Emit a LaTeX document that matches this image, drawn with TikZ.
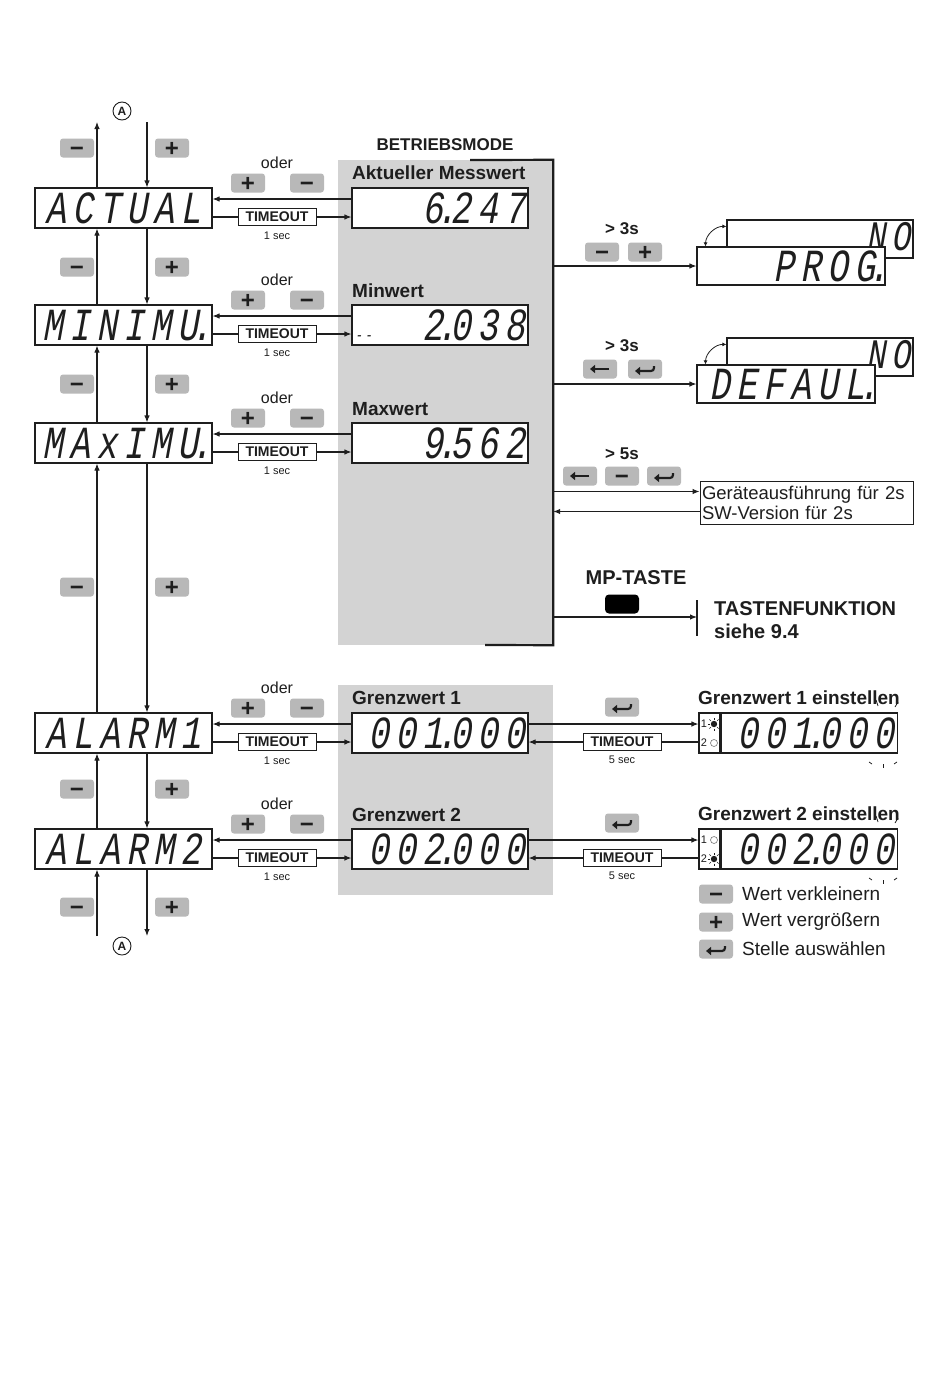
\documentclass[tikz,border=0pt]{standalone}
\usepackage{fontspec}
\setmainfont{Liberation Sans}
\newfontfamily\lcdfont[FakeSlant=0.18,FakeStretch=0.75,LetterSpace=14]{Liberation Mono}
\usetikzlibrary{arrows.meta,calc}
\definecolor{ink}{HTML}{1E1E1E}
\definecolor{keygray}{HTML}{B8B8B8}
\definecolor{panelgray}{HTML}{D3D3D3}
\newcommand\lcddot{\kern.07em\makebox[0pt][c]{.}\kern.07em}
\tikzset{
  ln/.style={draw=ink, line width=1.1pt},
  arr/.style={ln, -{Latex[length=7pt,width=5.5pt]}},
  lcdbox/.style={draw=ink, line width=1.1pt, fill=white, minimum height=40pt, inner xsep=1pt, inner ysep=0pt, text height=30pt, text depth=0pt, font=\lcdfont\fontsize{46}{46}\selectfont, text=ink},
  lcdl/.style={lcdbox, text width=175pt, align=center},
  lcdr/.style={lcdbox, inner xsep=3pt, text width=#1, align=right},
  lcdback/.style={lcdr=#1, minimum height=38pt, font=\lcdfont\fontsize{42}{42}\selectfont, text height=27pt, text depth=5pt},
  key/.style={fill=keygray, rounded corners=3pt, minimum width=34pt, minimum height=19pt, inner sep=0pt, text=ink, font=\bfseries\fontsize{24}{24}\selectfont, text height=16.3pt, text depth=0pt},
  keyleft/.style={key, path picture={
     \draw[ink, line width=2.4pt, -{Triangle[length=5pt,width=8pt]}] ([xshift=9pt]path picture bounding box.center) -- ([xshift=-10pt]path picture bounding box.center);}},
  keyenter/.style={key, path picture={
     \draw[ink, line width=2.2pt, -{Triangle[length=5pt,width=8pt]}] ([xshift=9pt,yshift=3pt]path picture bounding box.center) -- ([xshift=9pt,yshift=-2pt]path picture bounding box.center) -- ([xshift=-10pt,yshift=-2pt]path picture bounding box.center);}},
  tbox/.style={draw=ink, line width=0.9pt, fill=white, font=\bfseries\fontsize{14}{14}\selectfont, text=ink, minimum width=78pt, minimum height=17pt, inner sep=1pt},
  lbl/.style={font=\fontsize{19}{20}\selectfont, text=ink, inner sep=0pt},
  blbl/.style={font=\bfseries\fontsize{19}{20}\selectfont, text=ink, inner sep=0pt},
  oder/.style={font=\fontsize{16}{16}\selectfont, text=ink, inner sep=0pt},
  small/.style={font=\fontsize{11}{11}\selectfont, text=ink, inner sep=0pt},
  bold/.style={font=\bfseries\fontsize{17}{17}\selectfont, text=ink, inner sep=0pt},
  circA/.style={circle, draw=ink, line width=0.9pt, inner sep=0pt, minimum size=18pt, font=\bfseries\fontsize{12}{12}\selectfont, text=ink},
  ledbox/.style={draw=ink, line width=1.1pt, fill=white, minimum width=21pt, minimum height=40pt, inner sep=0pt}
}
\begin{document}
\begin{tikzpicture}[x=1pt,y=-1pt]
\useasboundingbox (0,0) rectangle (950,1373);
\fill[white] (0,0) rectangle (950,1373);
% panels
\node[fill=panelgray, minimum width=215pt, minimum height=485pt, inner sep=0pt] (panel) at (445.5,402.5) {};
\node[fill=panelgray, minimum width=215pt, minimum height=210pt, inner sep=0pt] (panel2) at (445.5,790) {};
\draw[ink, line width=2.2pt] (470,160) -- (panel.north east) -- (panel.south east) -- (485,645);
\node[bold] (bm) at (445,145) {BETRIEBSMODE};

% left displays
\node[lcdl] (dAct) at (123.5,208) {ACTUAL};
\node[lcdl] (dMin) at (123.5,325) {MINIMU\lcddot};
\node[lcdl] (dMax) at (123.5,443) {MAxIMU\lcddot};
\node[lcdl] (dAl1) at (123.5,733) {ALARM1};
\node[lcdl] (dAl2) at (123.5,849) {ALARM2};

% value displays
\node[lcdr=170pt] (vAct) at (440,208) {6\lcddot247};
\node[lcdr=170pt] (vMin) at (440,325) {{\fontsize{16}{16}\selectfont -\,-}\hfill 2\lcddot038};
\node[lcdr=170pt] (vMax) at (440,443) {9\lcddot562};
\node[lcdr=170pt] (vG1) at (440,733) {001\lcddot000};
\node[lcdr=170pt] (vG2) at (440,849) {002\lcddot000};
\node[blbl, anchor=west] (lAct) at (352,173) {Aktueller Messwert};
\node[blbl, anchor=west] (lMin) at (352,291) {Minwert};
\node[blbl, anchor=west] (lMax) at (352,409) {Maxwert};
\node[blbl, anchor=west] (lG1) at (352,698) {Grenzwert 1};
\node[blbl, anchor=west] (lG2) at (352,815) {Grenzwert 2};

% row connectors
\foreach \d/\v/\c/\i in {dAct/vAct/208/1, dMin/vMin/325/2, dMax/vMax/443/3, dAl1/vG1/733/4, dAl2/vG2/849/5}{
  \node[oder] (od\i) at (277,\c-45) {oder};
  \node[key] (kp\i) at (248,\c-25) {+};
  \node[key] (km\i) at (307,\c-25) {−};
  \node[tbox] (to\i) at (277,\c+9) {TIMEOUT};
  \node[small] (se\i) at (277,\c+28) {1 sec};
  \draw[arr] ([yshift=9pt]\v.west) -- ([yshift=9pt]\d.east);
  \draw[ln] ([yshift=-9pt]\d.east) -- (to\i.west);
  \draw[arr] (to\i.east) -- ([yshift=-9pt]\v.west);
}

% left verticals
\coordinate (cu) at (97,0);
\coordinate (cd) at (147,0);
\coordinate (topU) at (97,122);
\coordinate (topD) at (147,122);
\coordinate (botU) at (97,936);
\coordinate (botD) at (147,936);
\node[circA] (A1) at (122,111) {A};
\node[circA] (A2) at (122,946) {A};
\draw[arr] (dAct.north -| cu) -- (topU);
\draw[arr] (topD) -- (dAct.north -| cd);
\foreach \up/\dn in {dAct/dMin, dMin/dMax, dMax/dAl1, dAl1/dAl2}{
  \draw[arr] (\dn.north -| cu) -- (\up.south -| cu);
  \draw[arr] (\up.south -| cd) -- (\dn.north -| cd);
}
\draw[arr] (botU) -- (dAl2.south -| cu);
\draw[arr] (dAl2.south -| cd) -- (botD);
\foreach \y/\i in {148/1, 267/2, 384/3, 587/4, 789/5, 907/6}{
  \node[key] (sm\i) at (77,\y) {−};
  \node[key] (sp\i) at (172,\y) {+};
}

% PROG
\node[lcdback=180pt] (pBack) at (820,239) {NO};
\node[lcdr=182pt, minimum height=38pt] (pFront) at (791,266) {PROG\lcddot};
\draw[arr] (pFront.west -| panel.east) -- (pFront.west);
\draw[ink, line width=0.8pt, {Latex[length=4pt,width=4pt]}-{Latex[length=4pt,width=4pt]}] ([xshift=9pt]pFront.north west) to[bend left=45] ([yshift=-7pt]pBack.north west);
\node[bold] (g3a) at (622,229) {> 3s};
\node[key] (pk1) at (602,252) {−};
\node[key] (pk2) at (645,252) {+};

% DEFAUL
\node[lcdback=180pt] (dBack) at (820,357) {NO};
\node[lcdr=172pt, minimum height=38pt] (dFront) at (786,384) {DEFAUL\lcddot};
\draw[arr] (dFront.west -| panel.east) -- (dFront.west);
\draw[ink, line width=0.8pt, {Latex[length=4pt,width=4pt]}-{Latex[length=4pt,width=4pt]}] ([xshift=9pt]dFront.north west) to[bend left=45] ([yshift=-7pt]dBack.north west);
\node[bold] (g3b) at (622,346) {> 3s};
\node[keyleft] (dk1) at (600,369) {};
\node[keyenter] (dk2) at (645,369) {};

% info
\node[bold] (g5) at (622,454) {> 5s};
\node[keyleft] (ik1) at (580,476) {};
\node[key] (ik2) at (622,476) {−};
\node[keyenter] (ik3) at (664,476) {};
\node[draw=ink, line width=0.9pt, fill=white, minimum width=213pt, minimum height=43pt, text width=209pt, align=left, inner xsep=2pt, font=\fontsize{18.5}{20}\selectfont, text=ink] (gInfo) at (806.5,502.5) {Geräteausführung für 2s\\SW-Version für 2s};
\draw[arr] ([yshift=11pt]gInfo.west -| panel.east) -- ([yshift=11pt]gInfo.west);
\draw[arr] ([yshift=-9pt]gInfo.west) -- ([yshift=-9pt]gInfo.west -| panel.east);

% MP-Taste
\node[font=\bfseries\fontsize{20}{20}\selectfont, text=ink] (mp) at (636,578) {MP-TASTE};
\node[fill=black, rounded corners=4pt, minimum width=34pt, minimum height=19pt] (mpk) at (622,604) {};
\coordinate (tf) at (697,617);
\draw[arr] (tf -| panel.east) -- (tf);
\draw[ln] ([yshift=17pt]tf) -- ([yshift=-19pt]tf);
\node[anchor=west, align=left, font=\bfseries\fontsize{20}{23}\selectfont, text=ink, inner sep=0pt] (tfk) at (714,620) {TASTENFUNKTION\\siehe 9.4};

% setting displays
\foreach \v/\c/\i/\val in {vG1/733/1/001\lcddot000, vG2/849/2/002\lcddot000}{
  \node[ledbox] (led\i) at (709.5,\c) {};
  \node[lcdr=170pt, anchor=west] (st\i) at (led\i.east) {\val};
  \node[small] (n1\i) at (704,\c-9) {1};
  \node[small] (n2\i) at (704,\c+10) {2};
  \draw[arr] ([yshift=9pt]\v.east) -- ([yshift=9pt]led\i.west);
  \node[tbox] (tg\i) at (622,\c+9) {TIMEOUT};
  \draw[ln] ([yshift=-9pt]led\i.west) -- (tg\i.east);
  \draw[arr] (tg\i.west) -- ([yshift=-9pt]\v.east);
  \node[keyenter] (eg\i) at (622,\c-26) {};
  \node[small] (s5\i) at (622,\c+27) {5 sec};
  \node[blbl] (lst\i) at (799,\c-35) {Grenzwert \i\ einstellen};
  % blink marks
  \draw[ink, line width=0.8pt] (869,\c+29) -- (872,\c+31);
  \draw[ink, line width=0.8pt] (883,\c+31) -- (883,\c+35);
  \draw[ink, line width=0.8pt] (897,\c+29) -- (894,\c+31);
  \draw[ink, line width=0.8pt] (876,\c-33) -- (878,\c-27);
  \draw[ink, line width=0.8pt] (898,\c-31) -- (895,\c-26);
}
% LEDs
\fill[ink] (714,724) circle (3.2pt);
\foreach \a in {0,45,...,315} \draw[ink, line width=0.6pt] ($(714,724)+(\a:4.5pt)$) -- ($(714,724)+(\a:6.5pt)$);
\draw[ink!60, line width=0.6pt] (714,743) circle (3.5pt);
\draw[ink!60, line width=0.6pt] (714,840) circle (3.5pt);
\fill[ink] (714,859) circle (3.2pt);
\foreach \a in {0,45,...,315} \draw[ink, line width=0.6pt] ($(714,859)+(\a:4.5pt)$) -- ($(714,859)+(\a:6.5pt)$);

% legend
\node[key] (lg1) at (716,894) {−};
\node[lbl, anchor=west] (lt1) at (742,894) {Wert verkleinern};
\node[key] (lg2) at (716,922) {+};
\node[lbl, anchor=west] (lt2) at (742,922) {Wert vergrößern};
\node[keyenter] (lg3) at (716,949) {};
\node[lbl, anchor=west] (lt3) at (742,949) {Stelle auswählen};
\end{tikzpicture}
\end{document}
